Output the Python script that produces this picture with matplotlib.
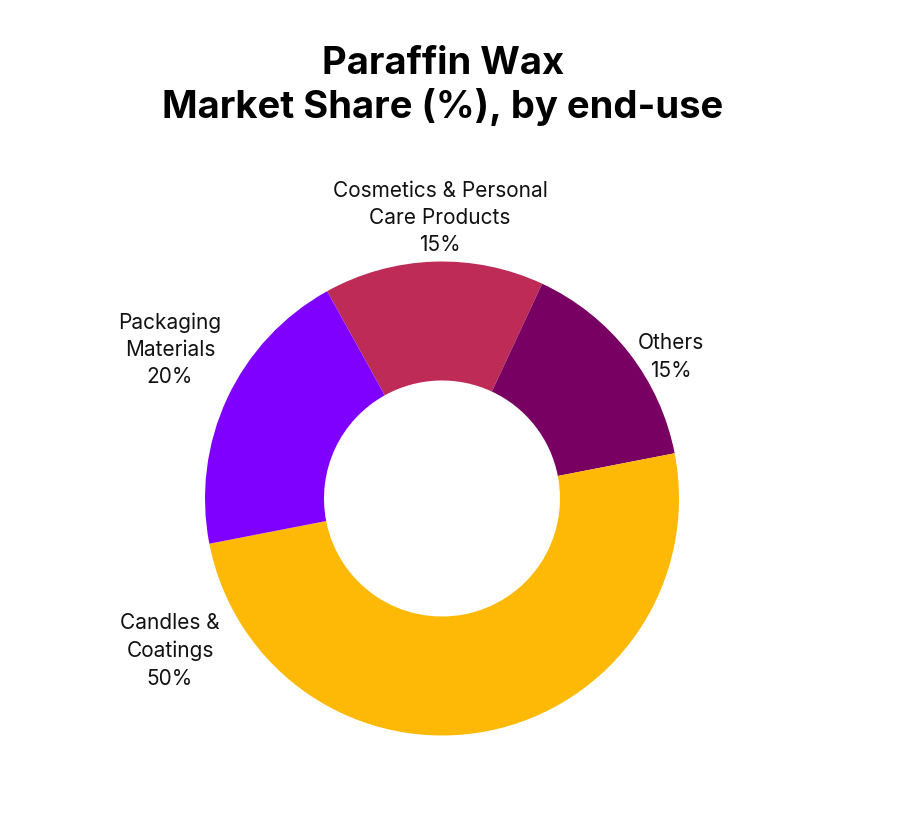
import matplotlib
matplotlib.use("Agg")
import matplotlib.pyplot as plt

plt.rcParams['font.family'] = ['Inter', 'DejaVu Sans']

# Data
categories = ["Cosmetics & Personal\nCare Products", "Others", "Candles &\nCoatings", "Packaging\nMaterials"]
shares = [15, 15, 50, 20]
colors = ["#BE2B57", "#780062", "#FDB905", "#8000FF"]
title = "Paraffin Wax\nMarket Share (%), by end-use"

# Layout (pixel positions of label centres)
label_pos = [(440, 218), (671, 357), (170, 651), (170, 350)]

W, H = 900, 821
fig = plt.figure(figsize=(W / 100, H / 100), dpi=100)
ax = fig.add_axes([0, 0, 1, 1])
ax.set_xlim(0, W)
ax.set_ylim(0, H)
ax.set_aspect('equal')
ax.axis('off')

cx, cy, R = 442, H - 498.5, 237
ax.pie(shares, colors=colors, startangle=119, counterclock=False,
       center=(cx, cy), radius=R, frame=True,
       wedgeprops=dict(width=R - 118, linewidth=0))
ax.set_xlim(0, W)
ax.set_ylim(0, H)
ax.axis('off')

for cat, val, (px, py) in zip(categories, shares, label_pos):
    ax.text(px, H - py, f"{cat}\n{val}%", ha='center', va='center',
            fontsize=15, color='#111111', linespacing=1.45)

ax.text(443, H - 86, title, ha='center', va='center', fontsize=27.5,
        fontweight='bold', color='black', linespacing=1.22)

fig.savefig("out.png", dpi=100, facecolor='white')
